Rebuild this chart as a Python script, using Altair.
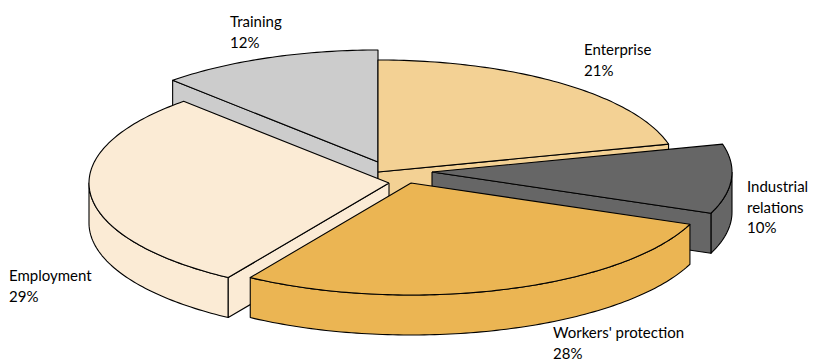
import math
import altair as alt
import pandas as pd

# ---------------- data ----------------
categories = ["Enterprise", "Industrial relations", "Workers' protection", "Employment", "Training"]
shares = [21, 10, 28, 29, 12]
label_lines = [
    ["Enterprise", "21%"],
    ["Industrial", "relations", "10%"],
    ["Workers' protection", "28%"],
    ["Employment", "29%"],
    ["Training", "12%"],
]
colors = ["#F3D194", "#666666", "#EBB553", "#FBEBD5", "#CCCCCC"]

# ---------------- layout / style ----------------
W, H = 814, 364
CX, CY, RX, RY, DEPTH = 378, 172, 300, 112, 40   # ellipse centre, radii, thickness (px)
explode_px = {
    "Enterprise": (0, 0),
    "Industrial relations": (54, 0),
    "Workers' protection": (33, 11),
    "Employment": (11, 11),
    "Training": (0, -10),
}
label_anchor_px = {  # left x, first baseline y
    "Enterprise": (584, 55),
    "Industrial relations": (747, 192),
    "Workers' protection": (553, 338),
    "Employment": (9, 281),
    "Training": (230, 27),
}
draw_order = ["Training", "Enterprise", "Industrial relations", "Employment", "Workers' protection"]
FONT = "Lato"


def u_of(px):
    return (px - CX) / RX


def v_of(py):
    return (CY - py) / RY


x_scale = alt.Scale(domain=[u_of(0), u_of(W)], nice=False, zero=False)
y_scale = alt.Scale(domain=[v_of(H), v_of(0)], nice=False, zero=False)
dv_depth = DEPTH / RY


def arc(ta, tb, ou, ov, shift=0.0):
    n = max(2, int(abs(tb - ta)) + 1)
    pts = []
    for i in range(n + 1):
        t = math.radians(ta + (tb - ta) * i / n)
        pts.append((ou + math.sin(t), ov + math.cos(t) - shift))
    return pts


rows = []
pid = 0
start = 0.0
geom = {}
for cat, share in zip(categories, shares):
    t0 = 360.0 * start / 100.0
    t1 = 360.0 * (start + share) / 100.0
    start += share
    geom[cat] = (t0, t1)

part_rank = {"wall": 0, "face": 1, "top": 2}
polys = []
for cat in draw_order:
    t0, t1 = geom[cat]
    ox, oy = explode_px[cat]
    ou, ov = ox / RX, -oy / RY
    parts = []
    # outer wall (front half only)
    a, b = max(t0, 90.0), min(t1, 270.0)
    if b > a:
        top = arc(a, b, ou, ov)
        bot = arc(a, b, ou, ov, dv_depth)
        parts.append(("wall", top + bot[::-1]))
    # radial faces
    for t, visible in ((t0, math.sin(math.radians(t0)) < -1e-9), (t1, math.sin(math.radians(t1)) > 1e-9)):
        if visible:
            rim = (ou + math.sin(math.radians(t)), ov + math.cos(math.radians(t)))
            parts.append(("face", [(ou, ov), rim, (rim[0], rim[1] - dv_depth), (ou, ov - dv_depth)]))
    # top
    parts.append(("top", [(ou, ov)] + arc(t0, t1, ou, ov)))
    parts.sort(key=lambda p: part_rank[p[0]])
    for kind, pts in parts:
        pts = pts + [pts[0]]
        for k, (u, v) in enumerate(pts):
            rows.append({"pid": pid, "category": cat, "kind": kind, "k": k, "u": u, "v": v})
        polys.append(pid)
        pid += 1

df = pd.DataFrame(rows)

fill = alt.Fill("category:N", scale=alt.Scale(domain=categories, range=colors), legend=None)

layers = []
for p in polys:
    layers.append(
        alt.Chart(df)
        .transform_filter(alt.datum.pid == p)
        .mark_line(stroke="black", strokeWidth=1.1, strokeJoin="round")
        .encode(
            x=alt.X("u:Q", scale=x_scale, axis=None),
            y=alt.Y("v:Q", scale=y_scale, axis=None),
            order=alt.Order("k:Q"),
            fill=fill,
        )
    )

lab = pd.DataFrame({
    "category": categories,
    "text": label_lines,
    "lu": [u_of(label_anchor_px[c][0]) for c in categories],
    "lv": [v_of(label_anchor_px[c][1]) for c in categories],
})
labels = alt.Chart(lab).mark_text(
    align="left", baseline="alphabetic", font=FONT, fontSize=15, lineHeight=20.5, color="#000000"
).encode(
    x=alt.X("lu:Q", scale=x_scale, axis=None),
    y=alt.Y("lv:Q", scale=y_scale, axis=None),
    text="text",
)

chart = alt.layer(*layers, labels).properties(
    width=W, height=H, padding=0, autosize="none", background="white"
).configure_view(stroke=None)

chart.save("out.html", embed_options={"renderer": "svg", "actions": False})
